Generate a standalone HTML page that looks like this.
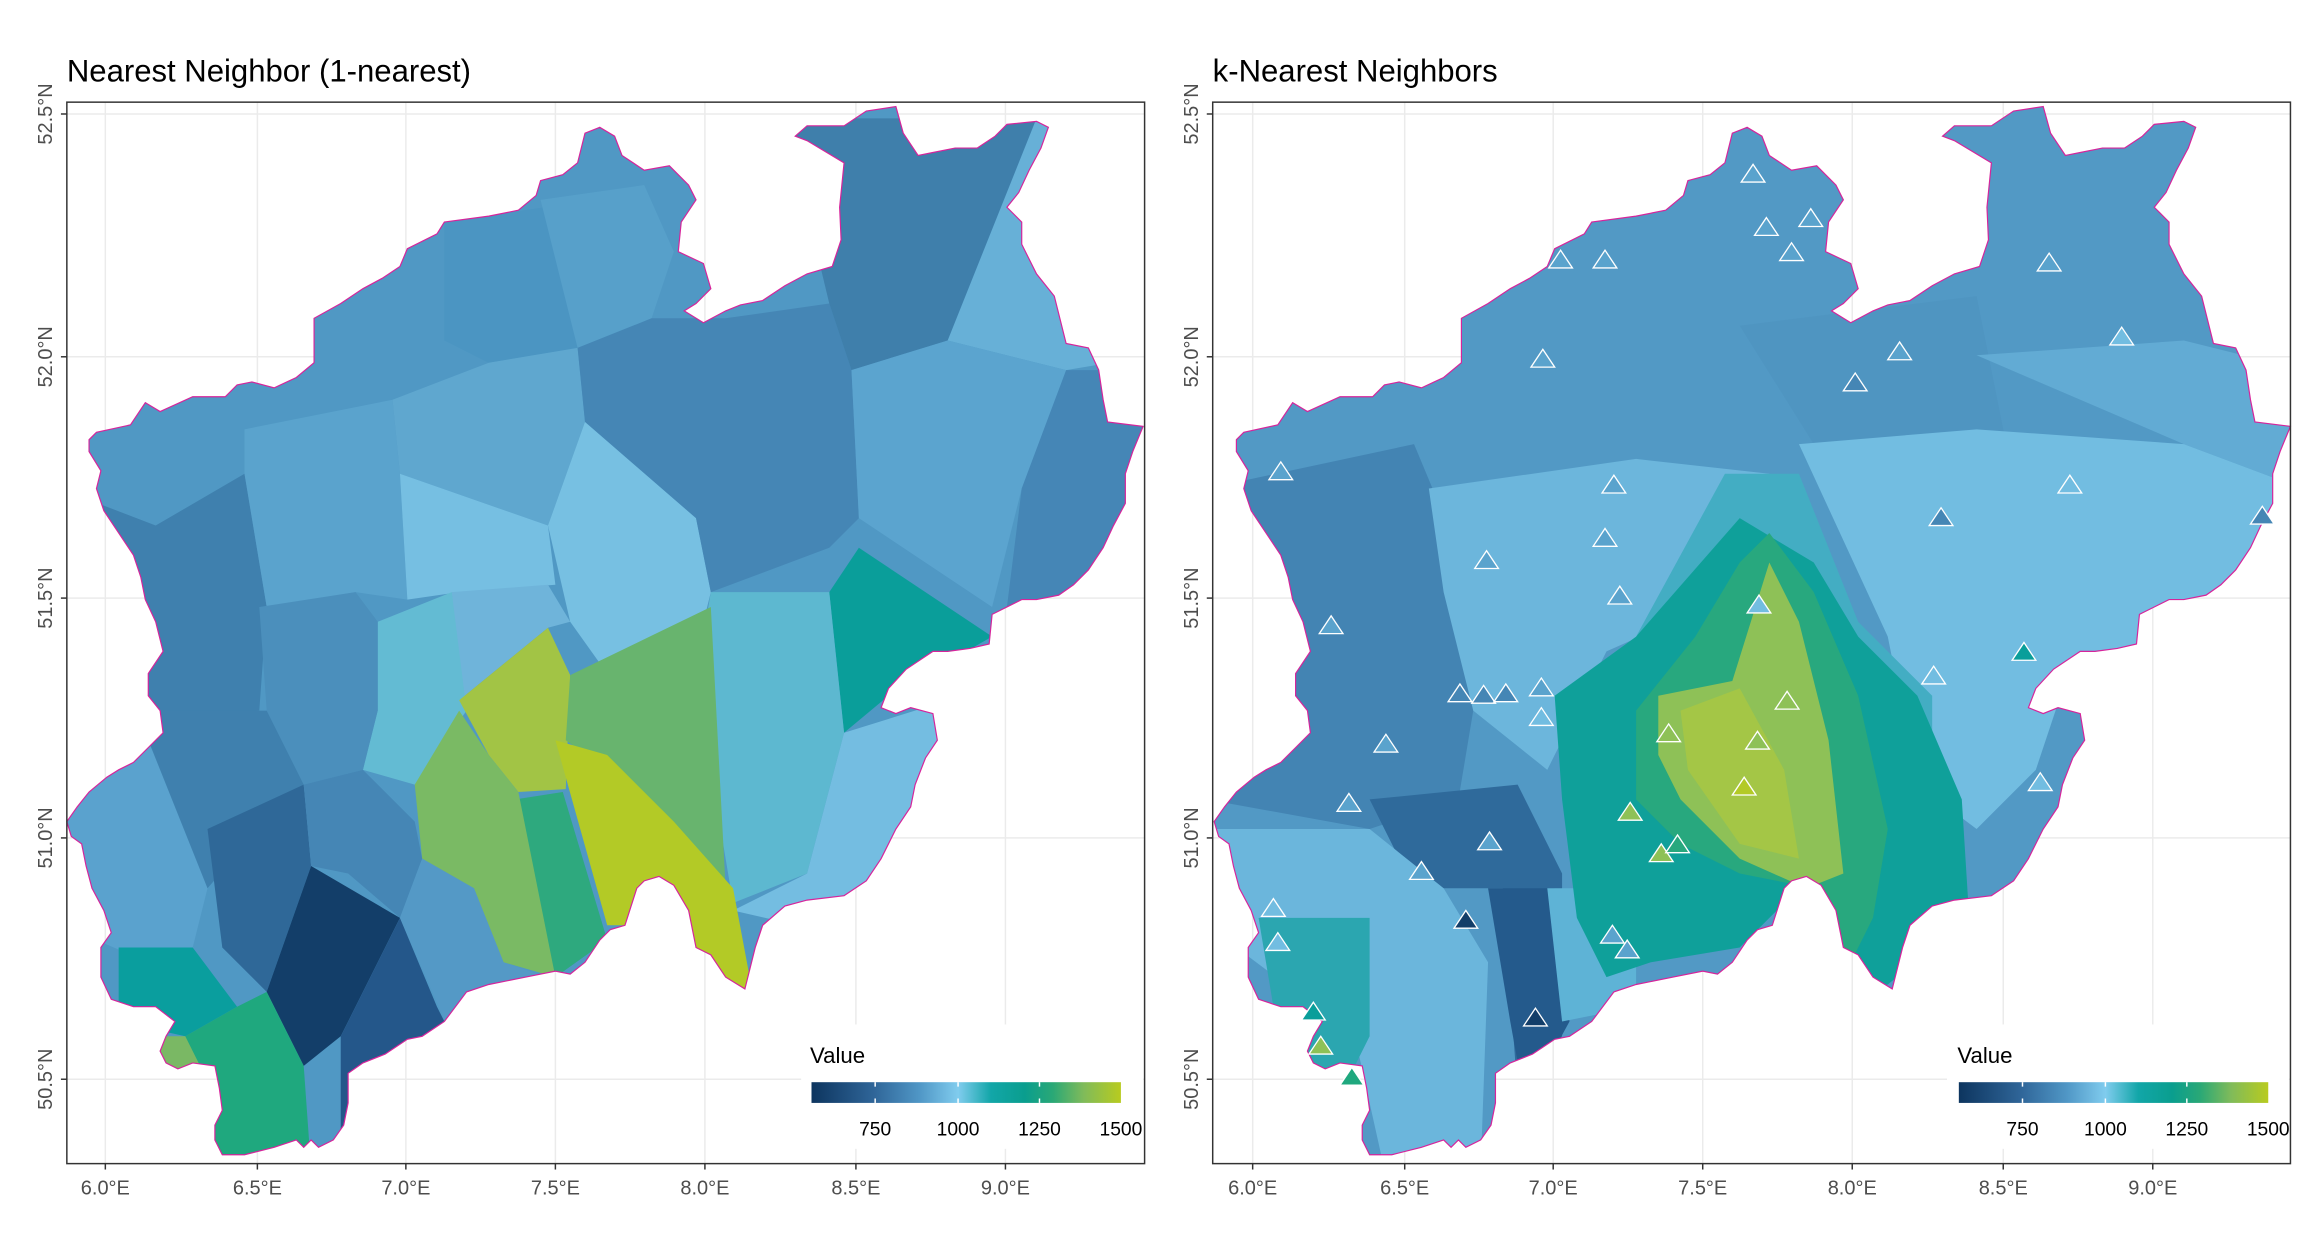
<!DOCTYPE html>
<html><head><meta charset="utf-8"><style>
html,body{margin:0;padding:0;background:#fff;}
svg{display:block;}
text{font-family:"Liberation Sans",Arial,sans-serif;}
</style></head><body>
<svg width="2304" height="1248" viewBox="0 0 1556 843" xmlns="http://www.w3.org/2000/svg">
<defs>
<polygon id="nrw" points="60,297 65,292 88,287 98,272 108,278 130,268 152,268 160,260 170,258 185,262 200,255 212,245 212,215 230,205 245,195 258,188 270,180 275,168 295,158 300,150 330,146 350,142 362,132 365,122 380,118 390,110 395,90 405,86 415,92 420,105 435,115 452,112 465,125 470,135 460,150 458,170 475,178 480,195 470,205 462,210 475,218 490,210 500,206 515,203 530,193 545,185 562,180 568,162 567,140 570,110 545,95 537,92 545,85 570,85 585,75 605,72 610,90 620,105 630,103 645,100 660,100 672,92 680,84 700,82 708,86 703,100 695,115 688,130 680,140 690,150 690,165 700,185 712,200 720,232 735,235 742,250 745,270 748,285 772,288 765,305 760,320 760,340 752,355 745,370 735,385 725,395 715,402 700,405 690,405 670,415 668,435 655,438 640,440 630,440 612,452 600,465 595,478 605,482 615,478 630,482 633,500 625,512 618,530 615,545 605,560 595,580 585,595 570,605 545,608 530,612 515,625 510,640 505,660 503,668 490,660 480,645 470,640 465,615 455,598 445,592 435,595 430,600 422,625 412,628 405,635 395,650 385,658 375,656 355,660 330,665 315,670 300,690 285,700 275,702 260,712 245,718 235,725 235,745 232,760 225,770 215,775 210,770 205,775 200,770 185,775 165,780 150,780 145,770 145,760 150,750 148,735 145,720 130,718 120,722 112,718 108,710 112,700 118,690 105,680 90,680 75,675 68,660 68,640 75,630 70,615 62,600 58,585 55,570 48,565 45,555 52,545 60,535 72,525 80,520 90,515 100,505 110,495 108,480 100,470 100,455 110,440 105,420 98,405 95,390 90,375 80,360 70,345 65,330 68,318 60,305"/>
<clipPath id="clip"><use href="#nrw"/></clipPath>
<linearGradient id="cb" x1="0" x2="1" y1="0" y2="0">
<stop offset="0" stop-color="#0d355f"/><stop offset="0.2" stop-color="#2f6598"/><stop offset="0.35" stop-color="#5097c6"/><stop offset="0.474" stop-color="#80ccee"/><stop offset="0.58" stop-color="#12a6a8"/><stop offset="0.69" stop-color="#0a9e8e"/><stop offset="0.78" stop-color="#2aa876"/><stop offset="0.88" stop-color="#80bb5a"/><stop offset="1" stop-color="#b8cb1f"/>
</linearGradient>
</defs>
<rect width="1556" height="843" fill="#fff"/>

<g id="left">
<rect x="45" y="69" width="728" height="717" fill="#fff"/>
<g stroke="#ebebeb" stroke-width="1">
<line x1="71" y1="69" x2="71" y2="786"/><line x1="173.7" y1="69" x2="173.7" y2="786"/><line x1="274" y1="69" x2="274" y2="786"/><line x1="375" y1="69" x2="375" y2="786"/><line x1="476" y1="69" x2="476" y2="786"/><line x1="578" y1="69" x2="578" y2="786"/><line x1="679" y1="69" x2="679" y2="786"/>
<line x1="45" y1="77" x2="773" y2="77"/><line x1="45" y1="241" x2="773" y2="241"/><line x1="45" y1="404" x2="773" y2="404"/><line x1="45" y1="566" x2="773" y2="566"/><line x1="45" y1="729" x2="773" y2="729"/>
</g>
<g clip-path="url(#clip)">
<rect x="40" y="60" width="740" height="730" fill="#5098c4"/>
<polygon fill="#3f80ae" points="40,330 105,355 165,320 180,410 175,480 100,490 40,470"/>
<polygon fill="#5aa3cd" points="165,290 265,270 270,320 275,405 240,400 180,410 165,320"/>
<polygon fill="#4b95c2" points="300,150 435,130 440,215 390,235 330,245 300,230"/>
<polygon fill="#57a0ca" points="365,135 435,125 455,170 440,215 390,235"/>
<polygon fill="#5fa7cf" points="265,270 330,245 390,235 395,285 370,355 270,320"/>
<polygon fill="#76bfe2" points="270,320 370,355 375,395 310,400 275,405"/>
<polygon fill="#77c0e2" points="370,355 395,285 470,350 480,400 465,460 410,455 385,420"/>
<polygon fill="#4586b5" points="390,235 440,215 490,215 560,205 575,250 580,350 560,370 480,400 470,350 395,285"/>
<polygon fill="#3f7fab" points="530,80 700,80 640,230 575,250 560,205"/>
<polygon fill="#67b0d7" points="640,230 700,80 780,80 780,240 720,250"/>
<polygon fill="#5ba4cf" points="575,250 640,230 720,250 690,330 670,410 580,350"/>
<polygon fill="#4586b6" points="720,250 780,250 780,420 680,410 690,330"/>
<polygon fill="#0a9e9a" points="580,370 670,430 600,470 570,495 560,400"/>
<polygon fill="#5db8d0" points="480,400 560,400 570,495 545,590 495,610 470,460"/>
<polygon fill="#74bde1" points="570,495 650,470 650,560 560,630 495,615 545,590"/>
<polygon fill="#6fb4da" points="305,400 370,395 385,420 370,424 310,473"/>
<polygon fill="#63bbd3" points="255,420 305,400 315,480 280,530 245,520 255,480"/>
<polygon fill="#a2c445" points="310,473 370,424 385,456 382,533 350,535 330,510"/>
<polygon fill="#68b46e" points="385,456 480,410 490,600 455,560 410,520 382,500"/>
<polygon fill="#b3ca26" points="375,500 410,510 455,555 495,600 510,680 430,625 410,625"/>
<polygon fill="#2ea97e" points="348,540 380,535 410,635 375,660"/>
<polygon fill="#7aba64" points="280,530 310,480 330,510 350,535 375,660 340,650 320,600 285,580"/>
<polygon fill="#4b8fbc" points="175,410 240,400 255,420 255,480 245,520 205,530 180,480"/>
<polygon fill="#3f80ae" points="100,480 180,480 205,530 175,560 140,600 100,560"/>
<polygon fill="#5aa2ce" points="30,520 100,500 140,600 130,640 100,650 30,620"/>
<polygon fill="#2f6898" points="140,560 205,530 210,585 180,670 150,640"/>
<polygon fill="#4586b5" points="205,530 245,520 280,555 285,580 270,620 235,590 210,585"/>
<polygon fill="#133e69" points="180,670 210,585 270,620 230,700 205,720"/>
<polygon fill="#24578a" points="230,700 270,620 295,680 305,700 245,790 230,790"/>
<polygon fill="#5499c6" points="270,620 285,580 320,600 340,650 385,665 305,700"/>
<polygon fill="#0a9e9e" points="80,640 130,640 160,680 125,700 80,690"/>
<polygon fill="#1fa87e" points="125,700 160,680 180,670 205,720 210,790 140,790"/>
<polygon fill="#7ab864" points="95,700 125,700 140,730 110,740"/>
</g>
<use href="#nrw" fill="none" stroke="#d6249b" stroke-width="0.8"/>
<rect x="45" y="69" width="728" height="717" fill="none" stroke="#333" stroke-width="1"/>
<rect x="541" y="692" width="231" height="84" fill="#fff"/>
<text x="547" y="718" font-size="15" fill="#000">Value</text>
<rect x="548" y="731" width="209" height="14" fill="url(#cb)"/>
<g stroke="#fff" stroke-width="1"><line x1="591" y1="731" x2="591" y2="734"/><line x1="591" y1="742" x2="591" y2="745"/><line x1="647" y1="731" x2="647" y2="734"/><line x1="647" y1="742" x2="647" y2="745"/><line x1="702" y1="731" x2="702" y2="734"/><line x1="702" y1="742" x2="702" y2="745"/></g>
<g font-size="13" fill="#000" text-anchor="middle"><text x="591" y="767">750</text><text x="647" y="767">1000</text><text x="702" y="767">1250</text><text x="757" y="767">1500</text></g>
<g stroke="#333" stroke-width="1"><line x1="71" y1="786" x2="71" y2="790"/><line x1="173.7" y1="786" x2="173.7" y2="790"/><line x1="274" y1="786" x2="274" y2="790"/><line x1="375" y1="786" x2="375" y2="790"/><line x1="476" y1="786" x2="476" y2="790"/><line x1="578" y1="786" x2="578" y2="790"/><line x1="679" y1="786" x2="679" y2="790"/>
<line x1="41" y1="77" x2="45" y2="77"/><line x1="41" y1="241" x2="45" y2="241"/><line x1="41" y1="404" x2="45" y2="404"/><line x1="41" y1="566" x2="45" y2="566"/><line x1="41" y1="729" x2="45" y2="729"/></g>
<g font-size="13.5" fill="#4d4d4d" text-anchor="middle"><text x="71" y="807">6.0°E</text><text x="173.7" y="807">6.5°E</text><text x="274" y="807">7.0°E</text><text x="375" y="807">7.5°E</text><text x="476" y="807">8.0°E</text><text x="578" y="807">8.5°E</text><text x="679" y="807">9.0°E</text></g>
<g font-size="13.5" fill="#4d4d4d" text-anchor="middle">
<text transform="translate(35,77) rotate(-90)">52.5°N</text><text transform="translate(35,241) rotate(-90)">52.0°N</text><text transform="translate(35,404) rotate(-90)">51.5°N</text><text transform="translate(35,566) rotate(-90)">51.0°N</text><text transform="translate(35,729) rotate(-90)">50.5°N</text></g>
<text x="45" y="55" font-size="21" fill="#000">Nearest Neighbor (1-nearest)</text>
</g>

<g transform="translate(775,0)">
<rect x="44" y="69" width="728" height="717" fill="#fff"/>
<g stroke="#ebebeb" stroke-width="1">
<line x1="71" y1="69" x2="71" y2="786"/><line x1="173.7" y1="69" x2="173.7" y2="786"/><line x1="274" y1="69" x2="274" y2="786"/><line x1="375" y1="69" x2="375" y2="786"/><line x1="476" y1="69" x2="476" y2="786"/><line x1="578" y1="69" x2="578" y2="786"/><line x1="679" y1="69" x2="679" y2="786"/>
<line x1="44" y1="77" x2="772" y2="77"/><line x1="44" y1="241" x2="772" y2="241"/><line x1="44" y1="404" x2="772" y2="404"/><line x1="44" y1="566" x2="772" y2="566"/><line x1="44" y1="729" x2="772" y2="729"/>
</g>
<g clip-path="url(#clip)">
<rect x="40" y="60" width="740" height="730" fill="#5299c5"/>
<polygon fill="#4f95c1" points="400,220 560,200 580,300 450,300"/>
<polygon fill="#62abd4" points="560,240 700,230 780,250 780,330 700,300"/>
<polygon fill="#4384b3" points="40,330 180,300 230,420 210,540 150,560 40,540"/>
<polygon fill="#6cb6dc" points="190,330 330,310 420,320 400,400 310,440 270,520 220,480 200,400"/>
<polygon fill="#72bde1" points="440,300 560,290 700,300 780,330 780,400 680,430 620,460 600,520 560,560 520,530 500,430"/>
<polygon fill="#2f6a9b" points="150,540 250,530 280,590 280,700 250,740 240,600 180,600"/>
<polygon fill="#245a8c" points="230,600 275,600 285,690 255,745 245,690"/>
<polygon fill="#6bb6dc" points="30,560 150,560 200,600 230,650 225,790 160,790 140,700 60,640"/>
<polygon fill="#2ba6b0" points="75,620 150,620 150,700 135,730 105,720 85,680"/>
<polygon fill="#5eb3d6" points="270,600 330,600 330,680 280,690"/>
<polygon fill="#43adc3" points="330,430 390,320 440,320 480,420 530,470 530,540 470,470 430,400 390,380"/>
<polygon fill="#0fa09a" points="275,470 330,430 400,350 450,380 480,430 520,470 550,540 555,620 500,665 470,670 450,600 430,610 400,640 340,650 310,660 290,620 280,540"/>
<polygon fill="#28a87e" points="330,480 370,430 400,380 420,360 450,400 480,470 500,560 490,620 470,660 450,600 400,590 360,570 330,540"/>
<polygon fill="#8ec157" points="345,470 395,460 420,380 440,420 460,500 470,590 445,600 400,580 360,540 345,510"/>
<polygon fill="#a4c646" points="360,480 400,465 430,520 440,580 400,570 365,520"/>
</g>
<use href="#nrw" fill="none" stroke="#d6249b" stroke-width="0.8"/>
<rect x="44" y="69" width="728" height="717" fill="none" stroke="#333" stroke-width="1"/>
<rect x="540" y="692" width="231" height="84" fill="#fff"/>
<text x="547" y="718" font-size="15" fill="#000">Value</text>
<rect x="548" y="731" width="209" height="14" fill="url(#cb)"/>
<g stroke="#fff" stroke-width="1"><line x1="591" y1="731" x2="591" y2="734"/><line x1="591" y1="742" x2="591" y2="745"/><line x1="647" y1="731" x2="647" y2="734"/><line x1="647" y1="742" x2="647" y2="745"/><line x1="702" y1="731" x2="702" y2="734"/><line x1="702" y1="742" x2="702" y2="745"/></g>
<g font-size="13" fill="#000" text-anchor="middle"><text x="591" y="767">750</text><text x="647" y="767">1000</text><text x="702" y="767">1250</text><text x="757" y="767">1500</text></g>
<g stroke="#333" stroke-width="1"><line x1="71" y1="786" x2="71" y2="790"/><line x1="173.7" y1="786" x2="173.7" y2="790"/><line x1="274" y1="786" x2="274" y2="790"/><line x1="375" y1="786" x2="375" y2="790"/><line x1="476" y1="786" x2="476" y2="790"/><line x1="578" y1="786" x2="578" y2="790"/><line x1="679" y1="786" x2="679" y2="790"/>
<line x1="40" y1="77" x2="44" y2="77"/><line x1="40" y1="241" x2="44" y2="241"/><line x1="40" y1="404" x2="44" y2="404"/><line x1="40" y1="566" x2="44" y2="566"/><line x1="40" y1="729" x2="44" y2="729"/></g>
<g font-size="13.5" fill="#4d4d4d" text-anchor="middle"><text x="71" y="807">6.0°E</text><text x="173.7" y="807">6.5°E</text><text x="274" y="807">7.0°E</text><text x="375" y="807">7.5°E</text><text x="476" y="807">8.0°E</text><text x="578" y="807">8.5°E</text><text x="679" y="807">9.0°E</text></g>
<g font-size="13.5" fill="#4d4d4d" text-anchor="middle">
<text transform="translate(34,77) rotate(-90)">52.5°N</text><text transform="translate(34,241) rotate(-90)">52.0°N</text><text transform="translate(34,404) rotate(-90)">51.5°N</text><text transform="translate(34,566) rotate(-90)">51.0°N</text><text transform="translate(34,729) rotate(-90)">50.5°N</text></g>
<text x="44" y="55" font-size="21" fill="#000">k-Nearest Neighbors</text>
</g>

<g stroke="#fff" stroke-width="0.9">
<g fill="#5aa3cd">
<polygon points="1176,123 1192,123 1184,111"/><polygon points="1185,159 1201,159 1193,147"/><polygon points="1215,153 1231,153 1223,141"/><polygon points="1202,176 1218,176 1210,164"/><polygon points="1046,181 1062,181 1054,169"/><polygon points="1076,181 1092,181 1084,169"/><polygon points="1034,248 1050,248 1042,236"/><polygon points="1275,243 1291,243 1283,231"/><polygon points="1376,183 1392,183 1384,171"/><polygon points="857,324 873,324 865,312"/><polygon points="1082,333 1098,333 1090,321"/><polygon points="1076,369 1092,369 1084,357"/><polygon points="996,384 1012,384 1004,372"/><polygon points="1086,408 1102,408 1094,396"/><polygon points="891,428 907,428 899,416"/><polygon points="1033,470 1049,470 1041,458"/><polygon points="928,508 944,508 936,496"/><polygon points="903,548 919,548 911,536"/><polygon points="998,574 1014,574 1006,562"/><polygon points="952,594 968,594 960,582"/><polygon points="1081,637 1097,637 1089,625"/><polygon points="1091,647 1107,647 1099,635"/></g>
<g fill="#4586b5"><polygon points="1245,264 1261,264 1253,252"/><polygon points="1303,355 1319,355 1311,343"/><polygon points="1520,354 1536,354 1528,342"/><polygon points="978,474 994,474 986,462"/><polygon points="994,475 1010,475 1002,463"/><polygon points="1009,474 1025,474 1017,462"/></g>
<g fill="#72bde1"><polygon points="1425,233 1441,233 1433,221"/><polygon points="1390,333 1406,333 1398,321"/><polygon points="1180,414 1196,414 1188,402"/><polygon points="1298,462 1314,462 1306,450"/><polygon points="1370,534 1386,534 1378,522"/><polygon points="1033,490 1049,490 1041,478"/><polygon points="852,619 868,619 860,607"/><polygon points="855,642 871,642 863,630"/></g>
<g fill="#0a9e9a"><polygon points="1359,446 1375,446 1367,434"/><polygon points="879,689 895,689 887,677"/></g>
<g fill="#8ec157"><polygon points="1199,479 1215,479 1207,467"/><polygon points="1119,501 1135,501 1127,489"/><polygon points="1179,506 1195,506 1187,494"/><polygon points="1093,554 1109,554 1101,542"/><polygon points="1114,582 1130,582 1122,570"/><polygon points="884,712 900,712 892,700"/></g>
<polygon fill="#b3ca26" points="1170,537 1186,537 1178,525"/>
<polygon fill="#28a87e" points="1125,576 1141,576 1133,564"/><polygon fill="#1fa87e" points="905,733 921,733 913,721"/>
<g fill="#133e69"><polygon points="982,627 998,627 990,615"/><polygon points="1029,693 1045,693 1037,681"/></g>
</g>
</svg>
</body></html>
